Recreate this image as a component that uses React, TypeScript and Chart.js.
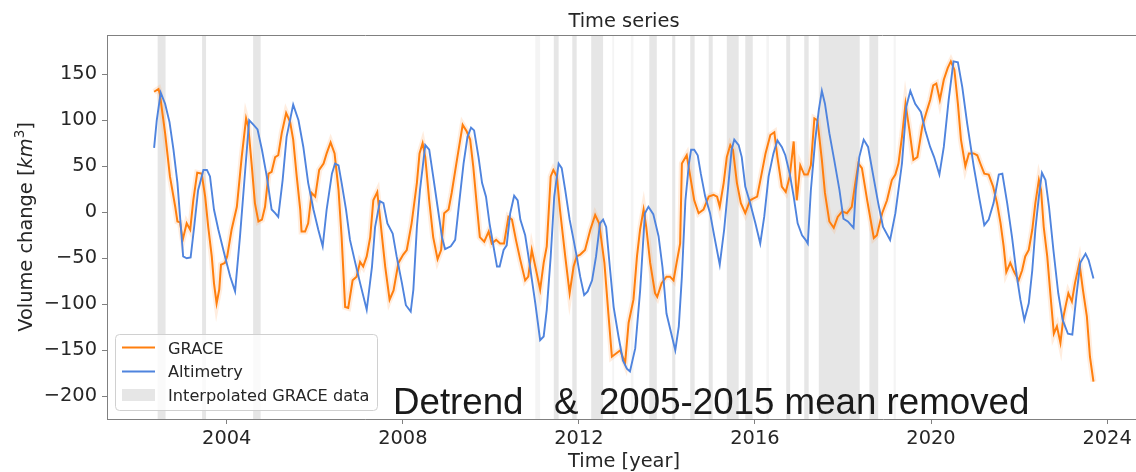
import React, { useEffect, useRef } from "react";
import { Chart, registerables } from "chart.js";

Chart.register(...registerables);

// ---------------- DATA ----------------
const graceYears = [
  2002.35, 2002.45, 2002.48, 2002.60, 2002.71, 2002.83, 2002.88, 2002.94, 2003.00, 2003.09,
  2003.17, 2003.24, 2003.33, 2003.43, 2003.51, 2003.58, 2003.66, 2003.71, 2003.77, 2003.83,
  2003.87, 2003.96, 2004.01, 2004.11, 2004.23, 2004.34, 2004.44, 2004.49, 2004.57, 2004.64,
  2004.72, 2004.80, 2004.87, 2004.95, 2005.02, 2005.10, 2005.17, 2005.25, 2005.35, 2005.44,
  2005.51, 2005.59, 2005.67, 2005.70, 2005.78, 2005.85, 2005.93, 2006.01, 2006.10, 2006.20,
  2006.27, 2006.36, 2006.45, 2006.54, 2006.61, 2006.69, 2006.76, 2006.86, 2006.95, 2007.03,
  2007.10, 2007.18, 2007.26, 2007.33, 2007.42, 2007.48, 2007.60, 2007.70, 2007.79, 2007.90,
  2008.01, 2008.09, 2008.20, 2008.32, 2008.38, 2008.45, 2008.51, 2008.60, 2008.69, 2008.79,
  2008.87, 2008.94, 2009.04, 2009.11, 2009.23, 2009.36, 2009.45, 2009.53, 2009.60, 2009.69,
  2009.75, 2009.85, 2009.95, 2010.02, 2010.12, 2010.21, 2010.30, 2010.40, 2010.48, 2010.57,
  2010.67, 2010.78, 2010.85, 2010.93, 2011.01, 2011.12, 2011.20, 2011.27, 2011.36, 2011.42,
  2011.50, 2011.57, 2011.69, 2011.79, 2011.88, 2011.95, 2012.03, 2012.14, 2012.26, 2012.37,
  2012.46, 2012.58, 2012.67, 2012.75, 2012.86, 2012.94, 2013.05, 2013.13, 2013.24, 2013.32,
  2013.39, 2013.47, 2013.53, 2013.62, 2013.73, 2013.78, 2013.88, 2013.99, 2014.07, 2014.15,
  2014.22, 2014.30, 2014.34, 2014.45, 2014.53, 2014.62, 2014.72, 2014.83, 2014.95, 2015.06,
  2015.14, 2015.20, 2015.29, 2015.36, 2015.44, 2015.50, 2015.59, 2015.68, 2015.78, 2015.89,
  2015.97, 2016.05, 2016.14, 2016.24, 2016.35, 2016.44, 2016.51, 2016.61, 2016.70, 2016.79,
  2016.88, 2016.95, 2017.03, 2017.12, 2017.20, 2017.27, 2017.35, 2017.42, 2017.52, 2017.59,
  2017.69, 2017.79, 2017.88, 2017.98, 2018.09, 2018.20, 2018.28, 2018.35, 2018.43, 2018.55,
  2018.70, 2018.77, 2018.89, 2019.00, 2019.11, 2019.19, 2019.26, 2019.34, 2019.42, 2019.51,
  2019.60, 2019.69, 2019.80, 2019.89, 2019.98, 2020.05, 2020.12, 2020.20, 2020.29, 2020.38,
  2020.45, 2020.53, 2020.61, 2020.68, 2020.78, 2020.86, 2020.97, 2021.05, 2021.12, 2021.21,
  2021.31, 2021.41, 2021.50, 2021.58, 2021.65, 2021.71, 2021.80, 2021.89, 2021.99, 2022.07,
  2022.14, 2022.22, 2022.30, 2022.37, 2022.45, 2022.50, 2022.56, 2022.64, 2022.71, 2022.79,
  2022.86, 2022.94, 2023.01, 2023.07, 2023.12, 2023.20, 2023.27, 2023.37, 2023.45, 2023.54,
  2023.61, 2023.69,
];
const graceValues = [
  131, 134, 129, 86, 39, 6, -10, -11, -30, -12,
  -19, 13, 43, 42, 17, -16, -48, -77, -99, -84,
  -57, -55, -48, -19, 6, 60, 102, 93, 50, 10,
  -10, -8, 6, 42, 44, 60, 62, 86, 108, 98,
  79, 39, 3, -21, -21, -12, 21, 17, 46, 53,
  64, 76, 64, 24, -27, -103, -104, -74, -70, -54,
  -59, -48, -27, 13, 22, -5, -59, -95, -85, -55,
  -46, -41, -12, 32, 64, 75, 60, 13, -27, -51,
  -41, -1, 3, 21, 57, 95, 88, 79, 50, 3,
  -27, -32, -21, -34, -30, -34, -34, -5, -8, -30,
  -52, -74, -70, -41, -59, -84, -55, -37, 39, 46,
  39, 3, -48, -88, -59, -48, -46, -41, -19, -3,
  -12, -55, -110, -157, -153, -150, -164, -120, -95, -48,
  -19, 3, -16, -55, -88, -92, -77, -70, -70, -74,
  -55, -34, 53, 62, 39, 13, -1, 3, 17, 19,
  17, 6, 32, 60, 73, 68, 32, 10, -1, 13,
  15, 17, 39, 64, 84, 87, 60, 28, 22, 39,
  77, 13, 51, 41, 41, 51, 102, 100, 57, 21,
  -10, -17, -5, 1, -1, 6, 32, 53, 48, 13,
  -28, -25, -1, 13, 35, 41, 53, 82, 118, 89,
  57, 60, 93, 108, 122, 138, 140, 122, 144, 157,
  164, 155, 118, 79, 50, 64, 64, 62, 53, 42,
  41, 28, 10, -12, -37, -65, -55, -65, -74, -63,
  -48, -41, -19, 10, 35, 24, -16, -48, -88, -132,
  -124, -142, -113, -99, -88, -97, -77, -55, -84, -113,
  -157, -184,
];

const altYears = [
  2002.35, 2002.41, 2002.50, 2002.60, 2002.70, 2002.79, 2002.88, 2002.94, 2003.01, 2003.09,
  2003.18, 2003.26, 2003.35, 2003.47, 2003.55, 2003.62, 2003.71, 2003.81, 2003.96, 2004.08,
  2004.19, 2004.30, 2004.42, 2004.51, 2004.61, 2004.70, 2004.80, 2004.91, 2005.02, 2005.10,
  2005.17, 2005.27, 2005.36, 2005.51, 2005.63, 2005.74, 2005.85, 2005.97, 2006.08, 2006.18,
  2006.27, 2006.39, 2006.46, 2006.54, 2006.61, 2006.71, 2006.80, 2006.92, 2007.03, 2007.18,
  2007.30, 2007.37, 2007.48, 2007.56, 2007.65, 2007.77, 2007.86, 2007.98, 2008.07, 2008.18,
  2008.24, 2008.32, 2008.39, 2008.51, 2008.60, 2008.69, 2008.79, 2008.89, 2008.96, 2009.09,
  2009.19, 2009.28, 2009.38, 2009.47, 2009.55, 2009.62, 2009.72, 2009.80, 2009.89, 2009.97,
  2010.06, 2010.14, 2010.20, 2010.29, 2010.36, 2010.44, 2010.53, 2010.61, 2010.67, 2010.78,
  2010.89, 2011.01, 2011.12, 2011.20, 2011.27, 2011.36, 2011.44, 2011.54, 2011.61, 2011.69,
  2011.79, 2011.88, 2011.95, 2012.03, 2012.12, 2012.20, 2012.30, 2012.39, 2012.48, 2012.55,
  2012.62, 2012.71, 2012.79, 2012.90, 2013.00, 2013.09, 2013.16, 2013.28, 2013.39, 2013.50,
  2013.58, 2013.69, 2013.81, 2013.90, 2013.99, 2014.10, 2014.19, 2014.27, 2014.34, 2014.42,
  2014.50, 2014.55, 2014.62, 2014.70, 2014.77, 2014.87, 2014.98, 2015.08, 2015.20, 2015.30,
  2015.40, 2015.47, 2015.53, 2015.63, 2015.70, 2015.78, 2015.89, 2016.01, 2016.12, 2016.21,
  2016.31, 2016.42, 2016.51, 2016.61, 2016.69, 2016.79, 2016.88, 2016.97, 2017.07, 2017.15,
  2017.20, 2017.27, 2017.37, 2017.45, 2017.52, 2017.59, 2017.69, 2017.80, 2017.92, 2018.01,
  2018.11, 2018.24, 2018.29, 2018.37, 2018.47, 2018.57, 2018.69, 2018.80, 2018.91, 2019.07,
  2019.19, 2019.34, 2019.44, 2019.53, 2019.64, 2019.77, 2019.87, 2019.98, 2020.07, 2020.19,
  2020.29, 2020.40, 2020.51, 2020.61, 2020.71, 2020.82, 2020.97, 2021.09, 2021.21, 2021.31,
  2021.42, 2021.54, 2021.62, 2021.73, 2021.84, 2021.95, 2022.03, 2022.12, 2022.22, 2022.30,
  2022.37, 2022.45, 2022.52, 2022.60, 2022.68, 2022.78, 2022.89, 2022.99, 2023.11, 2023.21,
  2023.30, 2023.39, 2023.51, 2023.58, 2023.69,
];
const altValues = [
  70, 100, 130, 118, 98, 68, 32, -5, -48, -50,
  -49, -16, 24, 46, 46, 39, 3, -19, -48, -70,
  -86, -27, 46, 100, 95, 90, 68, 39, 3, -1,
  -5, 35, 82, 117, 100, 71, 32, 3, -19, -37,
  3, 42, 53, 51, 32, 3, -30, -55, -77, -106,
  -59, -16, 12, 10, -12, -23, -48, -77, -101, -108,
  -84, -16, 24, 73, 68, 39, 6, -27, -40, -37,
  -30, 10, 53, 82, 92, 89, 60, 32, 17, -12,
  -37, -59, -59, -41, -36, -1, 18, 13, -8, -25,
  -59, -99, -139, -135, -106, -48, 17, 53, 48, 24,
  -8, -30, -48, -70, -90, -86, -74, -48, -12, -8,
  -16, -63, -103, -135, -161, -170, -173, -148, -86, -1,
  6, -2, -26, -60, -110, -132, -150, -124, -70, 13,
  53, 68, 68, 62, 42, 17, -1, -27, -57, -19,
  32, 68, 79, 73, 60, 28, 10, -12, -34, -5,
  39, 64, 78, 71, 62, 42, 17, -12, -25, -30,
  -34, 24, 79, 111, 132, 118, 86, 57, 24, -7,
  -10, -17, 24, 60, 79, 71, 39, 10, -16, -30,
  -1, 53, 115, 132, 118, 109, 89, 71, 60, 41,
  71, 122, 164, 163, 136, 97, 50, 17, -14, -8,
  10, 41, 42, 10, -27, -70, -95, -117, -99, -63,
  -19, 17, 43, 35, 6, -41, -88, -117, -132, -133,
  -92, -55, -45, -52, -72,
];

// interpolated GRACE periods (years)
const interpStarts = [2002.43, 2003.44, 2004.60, 2011.43, 2011.85, 2012.28, 2013.60, 2014.12, 2014.53, 2014.95, 2015.36, 2015.78, 2016.71, 2017.12, 2017.45, 2018.60];
const interpEnds = [2002.61, 2003.53, 2004.77, 2011.54, 2011.95, 2012.55, 2013.77, 2014.19, 2014.63, 2015.04, 2015.63, 2015.95, 2016.80, 2017.22, 2018.38, 2018.80];
const faintStarts = [2011.01, 2012.76, 2013.18, 2016.26, 2019.15];
const faintEnds = [2011.12, 2012.80, 2013.24, 2016.32, 2019.20];

const xTicks = [2004, 2008, 2012, 2016, 2020, 2024];
const yTicks = [-200, -150, -100, -50, 0, 50, 100, 150];

const titleText = "Time series";
const xLabelText = "Time [year]";
const legendLabels = ["GRACE", "Altimetry", "Interpolated GRACE data"];
const noteText = "Detrend   &  2005-2015 mean removed";

// ---------------- STYLE ----------------
const ORANGE = "#ff7f0e";
const BLUE = "#4f84de";
const BAND = "#e6e6e6";
const FAINT = "#f4f4f4";
const SPINE = "#808080";
const TEXT = "#262626";
const FONT = '"DejaVu Sans"';

const bandsPlugin = {
  id: "interpBands",
  beforeDatasetsDraw(chart: any) {
    const { ctx, chartArea: a, scales } = chart;
    const x = scales.x;
    ctx.save();
    ctx.beginPath();
    ctx.rect(a.left, a.top, a.right - a.left, a.bottom - a.top);
    ctx.clip();
    const draw = (s: number[], e: number[], col: string) => {
      ctx.fillStyle = col;
      for (let i = 0; i < s.length; i++) {
        const x0 = x.getPixelForValue(s[i]);
        const x1 = x.getPixelForValue(e[i]);
        ctx.fillRect(x0, a.top, x1 - x0, a.bottom - a.top);
      }
    };
    draw(faintStarts, faintEnds, FAINT);
    draw(interpStarts, interpEnds, BAND);
    ctx.restore();
  },
};

const decorPlugin = {
  id: "decor",
  afterDraw(chart: any) {
    const { ctx, chartArea: a } = chart;
    const cx = (a.left + a.right) / 2;
    ctx.save();
    // top spine
    ctx.strokeStyle = SPINE;
    ctx.lineWidth = 1;
    ctx.beginPath();
    ctx.moveTo(a.left, a.top + 0.5);
    ctx.lineTo(a.right, a.top + 0.5);
    ctx.stroke();

    ctx.fillStyle = TEXT;
    ctx.textBaseline = "alphabetic";
    // title
    ctx.font = `19.4px ${FONT}`;
    ctx.textAlign = "center";
    ctx.fillText(titleText, cx, 27);
    // x label
    ctx.fillText(xLabelText, cx, 467);

    // y label with math part
    ctx.save();
    ctx.translate(32, (a.top + a.bottom) / 2);
    ctx.rotate(-Math.PI / 2);
    ctx.textAlign = "left";
    const parts = [
      { t: "Volume change [", f: `19.4px ${FONT}`, dy: 0 },
      { t: "km", f: `italic 19.4px ${FONT}`, dy: 0 },
      { t: "3", f: `13.6px ${FONT}`, dy: -8 },
      { t: "]", f: `19.4px ${FONT}`, dy: 0 },
    ];
    let total = 0;
    for (const p of parts) {
      ctx.font = p.f;
      total += ctx.measureText(p.t).width;
    }
    let px = -total / 2;
    for (const p of parts) {
      ctx.font = p.f;
      ctx.fillText(p.t, px, p.dy);
      px += ctx.measureText(p.t).width;
    }
    ctx.restore();

    // legend
    ctx.beginPath();
    (ctx as any).roundRect(115.5, 334.5, 262, 76, 4);
    ctx.fillStyle = "rgba(255,255,255,0.8)";
    ctx.fill();
    ctx.strokeStyle = "#d0d0d0";
    ctx.lineWidth = 1;
    ctx.stroke();
    ctx.lineWidth = 2;
    ctx.strokeStyle = ORANGE;
    ctx.beginPath();
    ctx.moveTo(122, 347.5);
    ctx.lineTo(155, 347.5);
    ctx.stroke();
    ctx.strokeStyle = BLUE;
    ctx.beginPath();
    ctx.moveTo(122, 371.5);
    ctx.lineTo(155, 371.5);
    ctx.stroke();
    ctx.fillStyle = BAND;
    ctx.fillRect(122, 389, 33, 12);
    ctx.fillStyle = TEXT;
    ctx.font = `16.2px ${FONT}`;
    ctx.textAlign = "left";
    ctx.fillText(legendLabels[0], 168, 353.5);
    ctx.fillText(legendLabels[1], 168, 377);
    ctx.fillText(legendLabels[2], 168, 401);

    // annotation
    ctx.fillStyle = "#1a1a1a";
    ctx.font = '36.7px "Liberation Sans"';
    ctx.fillText(noteText, 393, 414);
    ctx.restore();
  },
};

export default function App() {
  const ref = useRef<HTMLCanvasElement | null>(null);
  useEffect(() => {
    if (!ref.current) return;
    const grace = graceYears.map((x, i) => ({ x, y: graceValues[i] }));
    const alt = altYears.map((x, i) => ({ x, y: altValues[i] }));
    const chart = new Chart(ref.current, {
      type: "line",
      data: {
        datasets: [
          {
            label: "Altimetry",
            data: alt,
            borderColor: BLUE,
            borderWidth: 1.9,
            pointRadius: 0,
            tension: 0,
            order: 0,
          },
          {
            label: "GRACE",
            data: grace,
            borderColor: ORANGE,
            borderWidth: 2,
            pointRadius: 0,
            tension: 0,
            order: 1,
          },
          {
            label: "GRACE uncertainty",
            data: grace,
            borderColor: "rgba(253,175,110,0.22)",
            borderWidth: 6,
            pointRadius: 0,
            tension: 0,
            order: 2,
          },
        ],
      },
      options: {
        responsive: false,
        animation: false,
        devicePixelRatio: 1,
        layout: { padding: { top: 35, right: 19, left: 0, bottom: 0 } },
        plugins: {
          legend: { display: false },
          title: { display: false },
          tooltip: { enabled: false },
        },
        scales: {
          x: {
            type: "linear",
            min: 2001.28,
            max: 2024.77,
            afterBuildTicks: (s: any) => {
              s.ticks = xTicks.map((v) => ({ value: v }));
            },
            afterFit: (s: any) => {
              s.height = 53;
            },
            ticks: {
              callback: (v: any) => String(v),
              font: { family: "DejaVu Sans", size: 19.4 },
              color: TEXT,
              padding: 3,
              maxRotation: 0,
            },
            grid: { drawOnChartArea: false, drawTicks: true, tickLength: 5, color: SPINE },
            border: { display: true, color: SPINE, width: 1 },
          },
          y: {
            type: "linear",
            min: -224.7,
            max: 192.7,
            afterBuildTicks: (s: any) => {
              s.ticks = yTicks.map((v) => ({ value: v }));
            },
            afterFit: (s: any) => {
              s.width = 107;
            },
            ticks: {
              callback: (v: any) => (v < 0 ? "\u2212" + Math.abs(v) : String(v)),
              font: { family: "DejaVu Sans", size: 19.4 },
              color: TEXT,
              padding: 5,
            },
            grid: { drawOnChartArea: false, drawTicks: true, tickLength: 5, color: SPINE },
            border: { display: true, color: SPINE, width: 1 },
          },
        },
      },
      plugins: [bandsPlugin, decorPlugin],
    } as any);
    return () => chart.destroy();
  }, []);
  return (
    <div
      style={{
        position: "fixed",
        left: 0,
        top: 0,
        width: 1136,
        height: 472,
        overflow: "hidden",
        background: "#fff",
      }}
    >
      <canvas ref={ref} width={1160} height={472} style={{ display: "block" }} />
    </div>
  );
}
